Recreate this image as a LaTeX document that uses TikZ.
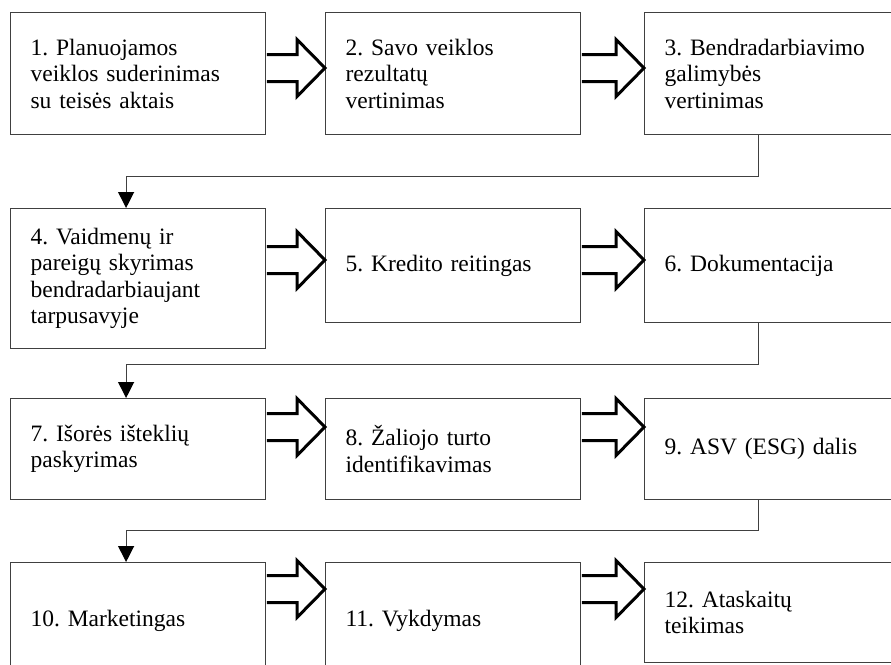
\documentclass[tikz,border=0pt]{standalone}
\usepackage{fontspec}
\setmainfont{Liberation Serif}
\usetikzlibrary{arrows.meta,calc}
\definecolor{LineGray}{HTML}{404040}
\newcommand{\stepfont}{\fontsize{23.5}{26.5}\selectfont\frenchspacing}
% hollow block arrow between two boxes, tip at height #3
\newcommand{\blockarrow}[3]{%
  \draw[blockarr] let \p1=(#1.east), \p2=(#2.west), \p3=(0,#3) in
    (\x1+0.6pt,\y3+13.5pt) -- (\x2-28pt,\y3+13.5pt) -- (\x2-28pt,\y3+28.5pt) -- (\x2,\y3)
    -- (\x2-28pt,\y3-28.5pt) -- (\x2-28pt,\y3-13.5pt) -- (\x1+0.6pt,\y3-13.5pt);}

\begin{document}
\begin{tikzpicture}[x=1pt,y=-1pt,
  stepbox/.style={draw=LineGray,line width=1.2pt,anchor=north west,inner xsep=20pt,inner ysep=0pt,text width=215pt,align=left,font=\stepfont},
  blockarr/.style={draw=black,line width=3pt,fill=white,line join=miter},
  flow/.style={draw=LineGray,line width=1.2pt,-{Triangle[width=16pt,length=16pt,color=black]}}]
\useasboundingbox (0,0) rectangle (891,664);
\clip (0,0) rectangle (891,664);

\node[stepbox,minimum height=122pt] (b1) at (10,12) {1. Planuojamos\\veiklos suderinimas\\su teisės aktais};
\node[stepbox,minimum height=122pt] (b2) at (325,12) {2. Savo veiklos\\rezultatų\\vertinimas};
\node[stepbox,minimum height=122pt] (b3) at (644,12) {3. Bendradarbiavimo\\galimybės\\vertinimas};

\node[stepbox,minimum height=140pt] (b4) at (10,208) {4. Vaidmenų ir\\pareigų skyrimas\\bendradarbiaujant\\tarpusavyje};
\node[stepbox,minimum height=114pt] (b5) at (325,208) {5. Kredito reitingas};
\node[stepbox,minimum height=114pt] (b6) at (644,208) {6. Dokumentacija};

\node[stepbox,minimum height=101pt] (b7) at (10,398) {7. Išorės išteklių\\paskyrimas};
\node[stepbox,minimum height=101pt] (b8) at (325,398) {8. Žaliojo turto\\identifikavimas};
\node[stepbox,minimum height=101pt] (b9) at (644,398) {9. ASV (ESG) dalis};

\node[stepbox,minimum height=116pt] (b10) at (10,562) {10. Marketingas};
\node[stepbox,minimum height=116pt] (b11) at (325,562) {11. Vykdymas};
\node[stepbox,minimum height=100pt] (b12) at (644,562) {12. Ataskaitų\\teikimas};

\blockarrow{b1}{b2}{68}
\blockarrow{b2}{b3}{68}
\blockarrow{b4}{b5}{260}
\blockarrow{b5}{b6}{260}
\blockarrow{b7}{b8}{427}
\blockarrow{b8}{b9}{427}
\blockarrow{b10}{b11}{589}
\blockarrow{b11}{b12}{589}

\draw[flow] ([xshift=-13.5pt]b3.south) -- ++(0,41) -| ([xshift=-12pt]b4.north);
\draw[flow] ([xshift=-13.5pt]b6.south) -- ++(0,41) -| ([xshift=-12pt]b7.north);
\draw[flow] ([xshift=-13.5pt]b9.south) -- ++(0,30) -| ([xshift=-12pt]b10.north);
\end{tikzpicture}
\end{document}
